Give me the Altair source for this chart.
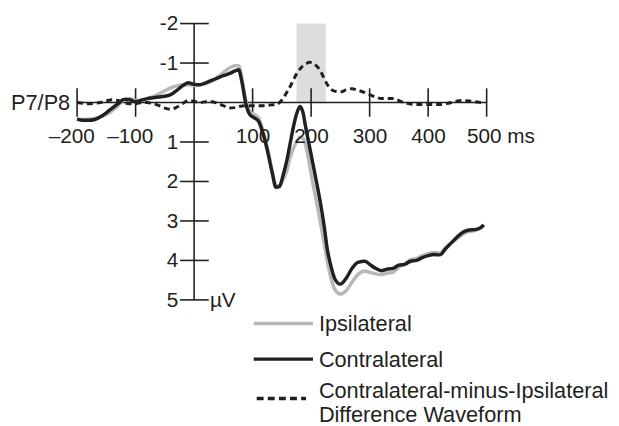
import altair as alt
import pandas as pd

# ---------------- data ----------------
time_ms = [-200, -190, -180, -170, -160, -150, -140, -130, -120, -110, -100, -90, -80, -70,
           -60, -50, -40, -30, -20, -10, 0, 10, 20, 30, 40, 50, 60, 70, 76, 82, 88, 95,
           102, 110, 118, 125, 133, 140, 146, 152, 158, 164, 170, 175, 181, 186, 191, 197,
           203, 209, 216, 222, 228, 234, 240, 250, 260, 270, 280, 292, 300, 310, 320, 330,
           340, 350, 360, 370, 380, 390, 400, 410, 420, 430, 440, 450, 460, 470, 480, 490, 495]

contralateral = [0.42, 0.45, 0.45, 0.43, 0.36, 0.26, 0.14, 0.03, -0.08, -0.07, -0.02, -0.06, -0.10, -0.12,
                 -0.14, -0.16, -0.20, -0.30, -0.42, -0.50, -0.46, -0.45, -0.50, -0.56, -0.62, -0.68, -0.73, -0.80, -0.83, -0.50, 0.00, 0.30,
                 0.38, 0.47, 0.80, 1.20, 1.75, 2.15, 2.12, 1.85, 1.50, 1.05, 0.60, 0.30, 0.10, 0.25, 0.65, 1.10,
                 1.55, 2.00, 2.55, 3.10, 3.75, 4.15, 4.45, 4.60, 4.45, 4.20, 4.05, 4.02, 4.10, 4.20, 4.26, 4.22,
                 4.20, 4.12, 4.10, 4.02, 4.00, 3.93, 3.88, 3.85, 3.86, 3.70, 3.55, 3.40, 3.28, 3.23, 3.22, 3.17, 3.10]

ipsilateral = [0.42, 0.43, 0.42, 0.41, 0.36, 0.30, 0.21, 0.08, -0.08, -0.10, -0.05, -0.06, -0.10, -0.15,
               -0.22, -0.30, -0.37, -0.42, -0.45, -0.45, -0.43, -0.45, -0.48, -0.54, -0.64, -0.76, -0.87, -0.93, -0.93, -0.59, -0.08, 0.22,
               0.30, 0.39, 0.72, 1.13, 1.69, 2.10, 2.12, 1.95, 1.75, 1.40, 1.15, 1.00, 0.88, 0.90, 1.10, 1.55,
               2.05, 2.50, 3.05, 3.55, 4.05, 4.45, 4.72, 4.85, 4.77, 4.55, 4.36, 4.27, 4.30, 4.34, 4.36, 4.32,
               4.30, 4.17, 4.09, 3.98, 3.95, 3.88, 3.83, 3.80, 3.81, 3.67, 3.55, 3.44, 3.33, 3.27, 3.24, 3.17, 3.10]

difference = [0.00, 0.02, 0.03, 0.02, 0.00, -0.04, -0.07, -0.05, 0.00, 0.03, 0.03, 0.00, 0.00, 0.03,
              0.08, 0.14, 0.17, 0.12, 0.03, -0.05, -0.03, 0.00, -0.02, -0.02, 0.02, 0.08, 0.14, 0.13, 0.10, 0.09, 0.08, 0.08,
              0.08, 0.08, 0.08, 0.07, 0.06, 0.05, 0.00, -0.10, -0.25, -0.40, -0.58, -0.72, -0.85, -0.93, -0.98, -1.02,
              -1.00, -0.93, -0.80, -0.62, -0.45, -0.34, -0.29, -0.27, -0.32, -0.35, -0.31, -0.25, -0.20, -0.14, -0.10, -0.10,
              -0.10, -0.05, 0.01, 0.04, 0.05, 0.05, 0.05, 0.05, 0.05, 0.03, 0.00, -0.04, -0.05, -0.04, -0.02, 0.00, 0.00]

x_ticks = [-200, -100, 100, 200, 300, 400, 500]
x_labels = ["\u2013200", "\u2013100", "100", "200", "300", "400", "500 ms"]
y_ticks = [-2, -1, 1, 2, 3, 4, 5]
y_labels = ["-2", "-1", "1", "2", "3", "4", "5"]
window_ms = [175, 225]
channel_label = "P7/P8"
unit_label = "\u00b5V"
legend_labels = ["Ipsilateral", "Contralateral",
                 "Contralateral-minus-Ipsilateral\nDifference Waveform"]

# ---------------- style ----------------
FONT = "Liberation Sans"
FS = 21
INK = "#231f20"
GRAY = "#b7b8ba"
SHADE = "#dcdddf"

waves = pd.DataFrame({"t": time_ms, "contra": contralateral,
                      "ipsi": ipsilateral, "diff": difference})

xs = alt.Scale(domain=[min(x_ticks), max(x_ticks)], nice=False, zero=False)
ys = alt.Scale(domain=[min(y_ticks), max(y_ticks)], reverse=True, nice=False, zero=False)


def X(f):
    return alt.X(f, type="quantitative", scale=xs, axis=None)


def Y(f):
    return alt.Y(f, type="quantitative", scale=ys, axis=None)


txt = dict(font=FONT, fontSize=FS, color=INK)
ltxt = dict(font=FONT, fontSize=22, color=INK)

shade = alt.Chart(pd.DataFrame({"a": [window_ms[0]], "b": [window_ms[1]],
                                "lo": [min(y_ticks)], "hi": [0]})).mark_rect(
    color=SHADE).encode(x=X("a"), x2="b", y=Y("lo"), y2="hi")

x_axis = alt.Chart(pd.DataFrame({"a": [min(x_ticks)], "b": [max(x_ticks)], "y": [0]})).mark_rule(
    color=INK, strokeWidth=1.6).encode(x=X("a"), x2="b", y=Y("y"))
y_axis = alt.Chart(pd.DataFrame({"x": [0], "lo": [min(y_ticks)], "hi": [max(y_ticks)]})).mark_rule(
    color=INK, strokeWidth=1.6).encode(x=X("x"), y=Y("lo"), y2="hi")

x_tick_marks = alt.Chart(pd.DataFrame({"t": x_ticks, "lo": -0.36, "hi": 0.36})).mark_rule(
    color=INK, strokeWidth=1.6).encode(x=X("t"), y=Y("lo"), y2="hi")
y_tick_marks = alt.Chart(pd.DataFrame({"v": y_ticks, "lo": -24, "hi": 25})).mark_rule(
    color=INK, strokeWidth=1.6).encode(y=Y("v"), x=X("lo"), x2="hi")

xl = pd.DataFrame({"t": x_ticks, "lab": x_labels, "y": 0})
x_text = alt.Chart(xl.iloc[:-1]).mark_text(align="right", baseline="alphabetic", dx=18, dy=41, **txt).encode(
    x=X("t"), y=Y("y"), text="lab:N")
x_text_last = alt.Chart(xl.iloc[-1:]).mark_text(align="left", baseline="alphabetic", dx=-20, dy=41, **txt).encode(
    x=X("t"), y=Y("y"), text="lab:N")

y_text = alt.Chart(pd.DataFrame({"v": y_ticks, "lab": y_labels, "x": 0})).mark_text(
    align="right", baseline="middle", dx=-16, dy=1, **txt).encode(x=X("x"), y=Y("v"), text="lab:N")

unit_text = alt.Chart(pd.DataFrame({"x": [0], "v": [max(y_ticks)], "lab": [unit_label]})).mark_text(
    align="left", baseline="middle", dx=16, dy=1, **txt).encode(x=X("x"), y=Y("v"), text="lab:N")
chan_text = alt.Chart(pd.DataFrame({"x": [min(x_ticks)], "v": [0], "lab": [channel_label]})).mark_text(
    align="right", baseline="middle", dx=-7, dy=1, **ltxt).encode(x=X("x"), y=Y("v"), text="lab:N")

base = alt.Chart(waves)
ipsi_line = base.mark_line(color=GRAY, strokeWidth=3.5, interpolate="monotone").encode(
    x=X("t"), y=Y("ipsi"))
contra_line = base.mark_line(color=INK, strokeWidth=3.5, interpolate="monotone").encode(
    x=X("t"), y=Y("contra"))
diff_line = base.mark_line(color=INK, strokeWidth=3, strokeDash=[6, 4], interpolate="monotone").encode(
    x=X("t"), y=Y("diff"))

# ---------------- legend (manual) ----------------
one = pd.DataFrame({"k": [0]})
leg = []
leg.append(alt.Chart(one).mark_rule(color=GRAY, strokeWidth=3.5).encode(
    x=alt.value(179), x2=alt.value(239), y=alt.value(304)))
leg.append(alt.Chart(one).mark_rule(color=INK, strokeWidth=3.5).encode(
    x=alt.value(179), x2=alt.value(239), y=alt.value(340)))
leg.append(alt.Chart(one).mark_rule(color=INK, strokeWidth=3.5, strokeDash=[7, 4.25]).encode(
    x=alt.value(182), x2=alt.value(232), y=alt.value(380)))
leg.append(alt.Chart(one).mark_text(align="left", baseline="alphabetic", **ltxt).encode(
    x=alt.value(245), y=alt.value(312), text=alt.value(legend_labels[0])))
leg.append(alt.Chart(one).mark_text(align="left", baseline="alphabetic", **ltxt).encode(
    x=alt.value(245), y=alt.value(348), text=alt.value(legend_labels[1])))
leg.append(alt.Chart(one).mark_text(align="left", baseline="alphabetic", lineBreak="\n",
                                    lineHeight=25, **ltxt).encode(
    x=alt.value(245), y=alt.value(379), text=alt.value(legend_labels[2])))

chart = alt.layer(
    shade, x_axis, y_axis, x_tick_marks, y_tick_marks,
    ipsi_line, contra_line, diff_line,
    x_text, x_text_last, y_text, unit_text, chan_text, *leg
).properties(
    width=415, height=280,
    padding={"left": 70, "top": 13, "right": 126, "bottom": 125},
    autosize=alt.AutoSizeParams(type="none"),
).configure(background="white").configure_view(strokeWidth=0)

chart.save("out.html", embed_options={"renderer": "svg", "actions": False})
